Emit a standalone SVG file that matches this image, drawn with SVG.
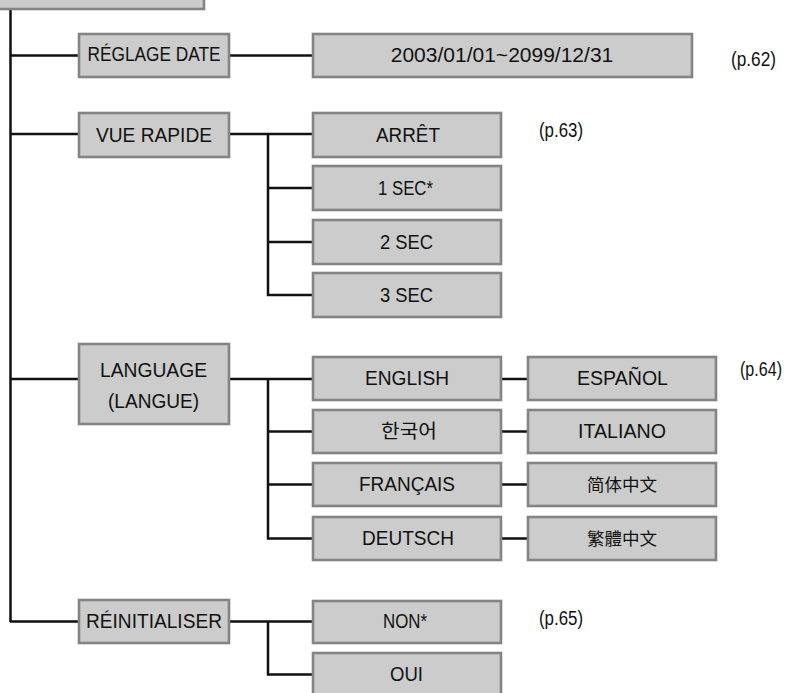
<svg xmlns="http://www.w3.org/2000/svg" width="791" height="693" viewBox="0 0 791 693">
<style>
.box{fill:#cccccc;stroke:#848484;stroke-width:2.6}
.t{font-family:"Liberation Sans",Arial,sans-serif;font-size:20px;fill:#111;text-anchor:middle}
.p{font-family:"Liberation Sans",Arial,sans-serif;font-size:19.5px;fill:#111}
.kr{font-family:"Liberation Sans","Noto Sans CJK KR",sans-serif;font-size:19px}
.sc{font-family:"Noto Sans CJK SC",sans-serif;font-size:17.5px}
.tc{font-family:"Noto Sans CJK TC",sans-serif;font-size:17.5px}
.c{fill:none;stroke:#111;stroke-width:2.5}
</style>
<rect width="791" height="693" fill="#ffffff"/>
<g id="connectors">
<path class="c" d="M10.5 0V622M10 55.5H79M10 134H79M10 379H79M10 621.5H79"/>
<path class="c" d="M229 55.5H313"/>
<path class="c" d="M229 134H313M268 134V295H313M268 188H313M268 242H313"/>
<path class="c" d="M229 379H313M268 379V538.5H313M268 431.5H313M268 484.5H313"/>
<path class="c" d="M501 379H528M501 431.5H528M501 484.5H528M501 538.5H528"/>
<path class="c" d="M229 621.5H313M268 621.5V674.5H313"/>
</g>
<g id="top"><rect class="box" x="-10" y="-40" width="214" height="49"/></g>
<g id="reglage-date"><rect class="box" x="79" y="34" width="150" height="43"/><text class="t" x="154" y="61" textLength="133" lengthAdjust="spacingAndGlyphs">RÉGLAGE DATE</text></g>
<g id="date-range"><rect class="box" x="313" y="34" width="379" height="43"/><text class="t" x="502" y="61.5" style="font-size:21px">2003/01/01~2099/12/31</text></g>
<g id="p62"><text class="p" x="731" y="66" textLength="45" lengthAdjust="spacingAndGlyphs">(p.62)</text></g>
<g id="vue-rapide"><rect class="box" x="79" y="113" width="150" height="44"/><text class="t" x="154" y="141.5" textLength="116" lengthAdjust="spacingAndGlyphs">VUE RAPIDE</text></g>
<g id="arret"><rect class="box" x="313" y="113" width="188" height="44"/><text class="t" x="408" y="141.7" textLength="64" lengthAdjust="spacingAndGlyphs">ARRÊT</text></g>
<g id="p63"><text class="p" x="539" y="137" textLength="44" lengthAdjust="spacingAndGlyphs">(p.63)</text></g>
<g id="sec1"><rect class="box" x="313" y="166" width="188" height="44"/><text class="t" x="405.5" y="195" textLength="55" lengthAdjust="spacingAndGlyphs">1 SEC*</text></g>
<g id="sec2"><rect class="box" x="313" y="220" width="188" height="44"/><text class="t" x="406.5" y="249" textLength="53" lengthAdjust="spacingAndGlyphs">2 SEC</text></g>
<g id="sec3"><rect class="box" x="313" y="273" width="188" height="44"/><text class="t" x="406.5" y="302" textLength="53" lengthAdjust="spacingAndGlyphs">3 SEC</text></g>
<g id="language"><rect class="box" x="79" y="344" width="150" height="80"/><text class="t" x="153.5" y="377.3" textLength="107" lengthAdjust="spacingAndGlyphs">LANGUAGE</text><text class="t" x="153.5" y="408" textLength="91" lengthAdjust="spacingAndGlyphs">(LANGUE)</text></g>
<g id="english"><rect class="box" x="313" y="357" width="188" height="43"/><text class="t" x="407" y="384.5" textLength="84" lengthAdjust="spacingAndGlyphs">ENGLISH</text></g>
<g id="espanol"><rect class="box" x="528" y="357" width="188" height="43"/><text class="t" x="622.5" y="384.5" textLength="91" lengthAdjust="spacingAndGlyphs">ESPAÑOL</text></g>
<g id="p64"><text class="p" x="740" y="376" textLength="42" lengthAdjust="spacingAndGlyphs">(p.64)</text></g>
<g id="korean"><rect class="box" x="313" y="410" width="188" height="43"/><text class="t kr" x="409" y="438" textLength="56" lengthAdjust="spacingAndGlyphs">한국어</text></g>
<g id="italiano"><rect class="box" x="528" y="410" width="188" height="43"/><text class="t" x="622" y="437.5" textLength="88" lengthAdjust="spacingAndGlyphs">ITALIANO</text></g>
<g id="francais"><rect class="box" x="313" y="463" width="188" height="43"/><text class="t" x="407" y="490.5" textLength="96" lengthAdjust="spacingAndGlyphs">FRANÇAIS</text></g>
<g id="chinese-s"><rect class="box" x="528" y="463" width="188" height="43"/><text class="t sc" x="622" y="491" textLength="70" lengthAdjust="spacingAndGlyphs">简体中文</text></g>
<g id="deutsch"><rect class="box" x="313" y="517" width="188" height="43"/><text class="t" x="408" y="544.5" textLength="92" lengthAdjust="spacingAndGlyphs">DEUTSCH</text></g>
<g id="chinese-t"><rect class="box" x="528" y="517" width="188" height="43"/><text class="t tc" x="622" y="545" textLength="70" lengthAdjust="spacingAndGlyphs">繁體中文</text></g>
<g id="reinitialiser"><rect class="box" x="79" y="600" width="150" height="43"/><text class="t" x="154" y="628" textLength="136" lengthAdjust="spacingAndGlyphs">RÉINITIALISER</text></g>
<g id="non"><rect class="box" x="313" y="601" width="188" height="42"/><text class="t" x="405" y="628" textLength="44" lengthAdjust="spacingAndGlyphs">NON*</text></g>
<g id="p65"><text class="p" x="539" y="624.5" textLength="44" lengthAdjust="spacingAndGlyphs">(p.65)</text></g>
<g id="oui"><rect class="box" x="313" y="653" width="188" height="43"/><text class="t" x="406.5" y="681" textLength="33" lengthAdjust="spacingAndGlyphs">OUI</text></g>
</svg>
